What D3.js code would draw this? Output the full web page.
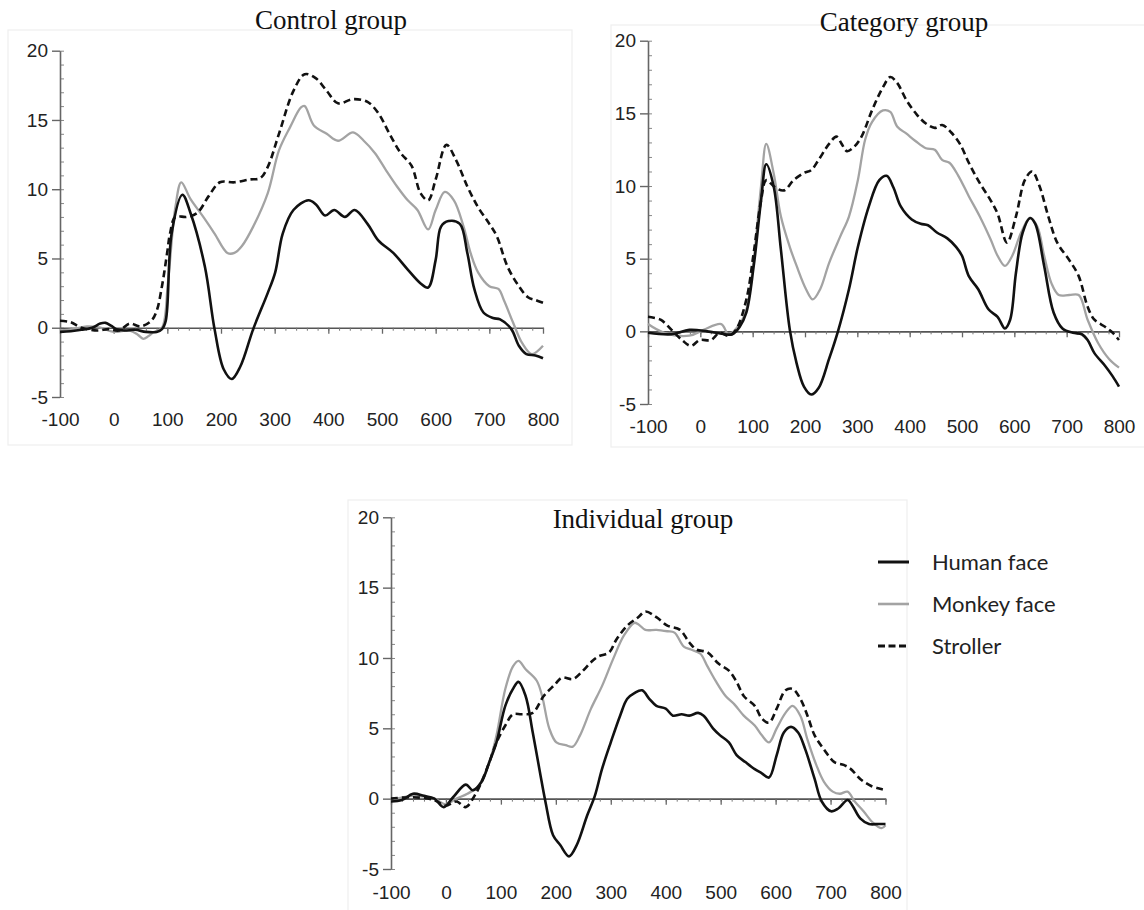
<!DOCTYPE html>
<html><head><meta charset="utf-8">
<script src="https://cdn.jsdelivr.net/npm/d3@7"></script>
<style>
html,body{margin:0;padding:0;background:#fff;}
svg{display:block;}
</style></head>
<body>
<svg id="c" width="1144" height="910"></svg>
<script>
// ---------- data ----------
const xTicks = [-100, 0, 100, 200, 300, 400, 500, 600, 700, 800];
const yTicks = [-5, 0, 5, 10, 15, 20];
const seriesNames = ["Human face", "Monkey face", "Stroller"];
const panelTitles = ["Control group", "Category group", "Individual group"];

const controlHuman = [[-100,-0.3],[-80,-0.25],[-60,-0.15],[-40,0.0],[-25,0.3],[-15,0.35],[-5,0.15],[5,-0.1],[20,-0.2],[40,-0.15],[60,-0.3],[80,-0.3],[90,-0.1],[97,0.5],[108,6.8],[128,9.6],[143,8.3],[170,4.4],[188,-0.1],[205,-3.0],[220,-3.7],[236,-2.8],[260,-0.1],[287,2.5],[301,4.0],[315,6.8],[335,8.5],[363,9.2],[377,8.9],[394,8.1],[411,8.5],[431,8.0],[449,8.5],[473,7.5],[493,6.3],[521,5.4],[548,4.2],[572,3.2],[586,2.9],[600,4.9],[610,7.3],[624,7.7],[645,7.5],[659,5.4],[672,2.8],[689,1.1],[707,0.7],[720,0.6],[741,-0.1],[755,-1.3],[769,-1.9],[786,-2.0],[800,-2.2]];
const controlMonkey = [[-100,-0.2],[-75,-0.1],[-50,0.1],[-25,0.0],[0,-0.3],[30,-0.2],[45,-0.5],[55,-0.8],[65,-0.6],[75,-0.3],[90,0.0],[101,3.2],[115,8.7],[126,10.5],[143,9.3],[167,8.0],[188,6.8],[212,5.4],[225,5.4],[239,5.9],[260,7.3],[287,9.7],[308,12.8],[329,14.5],[349,15.9],[356,16.0],[373,14.6],[397,14.0],[418,13.5],[446,14.1],[466,13.5],[487,12.6],[507,11.4],[528,10.2],[548,9.2],[566,8.5],[586,7.1],[600,8.5],[617,9.8],[634,9.2],[652,7.3],[665,5.4],[679,4.0],[700,3.0],[717,2.8],[727,2.0],[744,0.4],[761,-1.1],[779,-1.9],[800,-1.3]];
const controlStroller = [[-100,0.5],[-80,0.4],[-60,0.0],[-30,-0.2],[-10,-0.1],[10,-0.2],[30,0.3],[50,0.1],[70,0.5],[80,1.2],[90,3.0],[100,5.5],[105,6.8],[115,8.0],[136,8.0],[156,8.3],[177,9.5],[198,10.5],[225,10.5],[253,10.7],[273,10.8],[287,11.6],[308,14.0],[335,17.1],[356,18.3],[377,18.0],[397,17.1],[418,16.2],[446,16.5],[473,16.3],[493,15.5],[514,14.0],[535,12.6],[555,11.7],[572,9.7],[586,9.2],[600,10.7],[620,13.2],[638,12.1],[659,10.2],[679,8.7],[700,7.5],[714,6.6],[734,4.4],[755,3.0],[772,2.2],[786,2.0],[800,1.8]];

const categoryHuman = [[-100,-0.1],[-55,-0.2],[-21,0.1],[13,0.0],[47,-0.2],[61,-0.2],[75,0.3],[88,1.3],[102,4.5],[116,9.0],[126,11.5],[140,10.0],[154,5.6],[171,0.1],[184,-2.2],[198,-3.8],[212,-4.35],[226,-3.9],[246,-1.9],[263,0.0],[284,2.9],[301,5.8],[322,8.6],[342,10.4],[356,10.7],[369,9.9],[383,8.6],[404,7.7],[421,7.4],[435,7.3],[452,6.8],[472,6.4],[489,5.8],[500,5.2],[513,3.8],[531,2.9],[551,1.5],[568,1.0],[582,0.2],[592,0.8],[603,4.0],[616,6.8],[630,7.8],[640,7.4],[657,4.5],[675,1.3],[692,0.2],[712,-0.1],[729,-0.2],[740,-0.6],[753,-1.5],[774,-2.4],[788,-3.1],[800,-3.8]];
const categoryMonkey = [[-100,0.5],[-69,-0.1],[-21,-0.3],[6,0.1],[40,0.5],[54,-0.2],[75,0.5],[88,1.5],[102,4.9],[116,10.0],[126,12.9],[140,10.9],[154,7.9],[171,5.8],[184,4.5],[202,2.9],[215,2.2],[229,2.9],[246,4.7],[267,6.5],[284,7.9],[301,10.4],[315,13.2],[328,14.4],[349,15.2],[363,15.1],[376,14.1],[394,13.6],[411,13.1],[431,12.6],[448,12.5],[462,11.8],[476,11.6],[493,10.7],[513,9.3],[534,7.9],[555,6.3],[568,5.2],[582,4.5],[596,5.2],[613,6.8],[630,7.8],[644,7.2],[657,5.2],[671,3.3],[685,2.5],[705,2.5],[723,2.5],[740,0.8],[760,-0.8],[781,-1.9],[800,-2.5]];
const categoryStroller = [[-100,1.0],[-76,0.8],[-55,0.1],[-35,-0.6],[-18,-1.0],[-1,-0.6],[20,-0.6],[37,-0.1],[54,-0.3],[68,0.1],[88,2.2],[102,5.4],[116,9.0],[126,10.4],[143,9.9],[160,9.7],[178,10.4],[198,10.9],[212,11.1],[226,11.8],[246,12.9],[260,13.4],[270,12.9],[280,12.4],[294,12.7],[308,13.4],[328,15.2],[349,16.8],[363,17.5],[376,17.1],[394,15.9],[414,14.9],[431,14.3],[448,14.0],[462,14.2],[479,13.7],[496,12.9],[513,11.6],[534,10.2],[555,9.0],[568,8.1],[586,6.1],[603,7.9],[620,10.4],[634,11.0],[648,10.0],[665,7.9],[682,6.1],[705,4.9],[723,3.8],[740,1.7],[753,0.8],[774,0.3],[788,-0.1],[800,-0.6]];

const individualHuman = [[-100,-0.2],[-80,-0.1],[-60,0.35],[-40,0.2],[-21,0.0],[-4,-0.6],[13,0.1],[36,1.0],[49,0.6],[65,1.2],[79,2.6],[92,4.0],[108,6.6],[122,7.8],[132,8.3],[145,7.3],[158,4.7],[171,1.9],[181,-0.2],[195,-2.6],[208,-3.3],[224,-4.1],[238,-3.3],[257,-1.2],[271,0.2],[284,2.1],[300,4.0],[317,5.9],[330,7.1],[343,7.5],[357,7.7],[370,7.1],[383,6.6],[400,6.4],[413,5.9],[429,6.0],[443,5.9],[459,6.1],[469,5.9],[486,5.0],[499,4.5],[515,4.0],[529,3.1],[545,2.6],[562,2.1],[575,1.8],[588,1.5],[602,3.1],[615,4.7],[628,5.1],[641,4.7],[654,3.5],[671,1.4],[684,-0.2],[701,-0.9],[714,-0.7],[731,-0.1],[740,-0.5],[754,-1.4],[770,-1.8],[787,-1.8],[800,-1.8]];
const individualMonkey = [[-100,-0.1],[-60,0.2],[-21,0.0],[-1,-0.4],[19,0.0],[39,0.35],[59,0.9],[79,2.6],[92,4.5],[108,7.8],[122,9.4],[132,9.8],[145,9.2],[165,8.4],[175,7.3],[188,5.0],[201,4.0],[218,3.8],[231,3.7],[244,4.5],[264,6.4],[284,8.0],[304,9.9],[324,11.6],[343,12.5],[350,12.4],[363,12.0],[383,12.0],[403,11.9],[416,11.8],[433,10.8],[446,10.6],[463,10.3],[476,9.4],[492,8.3],[509,7.3],[525,6.7],[542,5.9],[562,5.2],[575,4.5],[588,4.0],[602,5.0],[618,6.1],[631,6.6],[645,5.9],[658,4.2],[674,2.4],[688,1.2],[704,0.5],[717,0.35],[731,0.5],[744,-0.2],[760,-0.9],[777,-1.7],[793,-2.1],[800,-1.9]];
const individualStroller = [[-100,0.0],[-60,0.1],[-21,-0.1],[-1,-0.5],[19,-0.2],[36,-0.6],[52,0.2],[65,1.2],[79,2.6],[92,4.0],[108,5.2],[122,6.0],[138,6.0],[158,6.1],[178,7.3],[198,8.1],[211,8.6],[231,8.5],[247,9.0],[264,9.7],[277,10.1],[297,10.4],[310,11.3],[330,12.3],[350,12.9],[363,13.3],[383,12.9],[403,12.3],[426,12.0],[443,11.1],[456,10.6],[476,10.4],[496,9.6],[515,9.1],[529,8.3],[542,7.3],[562,6.6],[575,5.7],[588,5.4],[602,6.4],[618,7.7],[631,7.8],[645,7.1],[658,5.9],[671,4.5],[688,3.5],[707,2.6],[724,2.4],[737,2.1],[754,1.4],[774,0.9],[790,0.7],[800,0.6]];

// ---------- layout / style ----------
const styles = [
  {stroke:"#111", width:2.6, dash:null},
  {stroke:"#a3a3a3", width:2.3, dash:null},
  {stroke:"#111", width:2.6, dash:"7,4"}
];
const layouts = [
  {x0:60, x1:543, yTop:50.7, yBot:397, tx:331, ty:29, ly:426, bg:[8,30,564,415], data:[controlHuman,controlMonkey,controlStroller]},
  {x0:648, x1:1119, yTop:40.7, yBot:404, tx:904, ty:31, ly:433, bg:[611,25,540,422], data:[categoryHuman,categoryMonkey,categoryStroller]},
  {x0:391, x1:885.5, yTop:517.3, yBot:869, tx:643, ty:528, ly:899, bg:[348,500,559,420], data:[individualHuman,individualMonkey,individualStroller]}
];

const svg = d3.select("#c");
const tickFont = "'Liberation Sans', Arial, sans-serif";
const fmt = d => String(d);

layouts.forEach((L, pi) => {
  const x = d3.scaleLinear().domain([-100, 800]).range([L.x0, L.x1]);
  const y = d3.scaleLinear().domain([-5, 20]).range([L.yBot, L.yTop]);
  const g = svg.append("g");

  // faint panel border
  g.append("rect").attr("x", L.bg[0]).attr("y", L.bg[1]).attr("width", L.bg[2]).attr("height", L.bg[3])
    .attr("fill", "none").attr("stroke", "#efefef").attr("stroke-width", 1.2);

  // title
  g.append("text").attr("x", L.tx).attr("y", L.ty).attr("text-anchor", "middle")
    .style("font-family", "'Liberation Serif', 'Times New Roman', serif").style("font-size", "27px")
    .attr("fill", "#111").text(panelTitles[pi]);

  // y axis minor ticks
  const yMinor = g.append("g").attr("transform", `translate(${L.x0},0)`)
    .call(d3.axisLeft(y).tickValues(d3.range(-5, 20.01, 1)).tickSize(-4).tickFormat(""));
  yMinor.select(".domain").remove();
  yMinor.selectAll("line").attr("stroke", "#888").attr("stroke-width", 1);

  // y axis major
  const yAx = g.append("g").attr("transform", `translate(${L.x0},0)`)
    .call(d3.axisLeft(y).tickValues(yTicks).tickSize(8).tickSizeOuter(0).tickPadding(4).tickFormat(fmt));
  yAx.select(".domain").attr("stroke", "#666").attr("stroke-width", 1.6);
  yAx.selectAll("line").attr("stroke", "#666").attr("stroke-width", 1.4);
  yAx.selectAll("text").style("font-family", tickFont).style("font-size", "19px").attr("fill", "#222");

  // zero line with ticks
  const zMinor = g.append("g").attr("transform", `translate(0,${y(0)})`)
    .call(d3.axisBottom(x).tickValues(d3.range(-100, 800.01, 20)).tickSize(3).tickSizeOuter(0).tickFormat(""));
  zMinor.select(".domain").attr("stroke", "#555").attr("stroke-width", 1.6);
  zMinor.selectAll("line").attr("stroke", "#777").attr("stroke-width", 1);
  const zMajor = g.append("g").attr("transform", `translate(0,${y(0)})`)
    .call(d3.axisBottom(x).tickValues(xTicks).tickSize(6).tickSizeOuter(0).tickFormat(""));
  zMajor.select(".domain").remove();
  zMajor.selectAll("line").attr("stroke", "#666").attr("stroke-width", 1.3);

  // x tick labels at bottom
  const xLab = g.append("g").attr("transform", `translate(0,${L.ly})`)
    .call(d3.axisBottom(x).tickValues(xTicks).tickSize(0).tickPadding(0).tickFormat(fmt));
  xLab.select(".domain").remove();
  xLab.selectAll("text").attr("dy", 0).attr("y", 0)
    .style("font-family", tickFont).style("font-size", "19px").attr("fill", "#222");

  // lines
  const line = d3.line().x(d => x(d[0])).y(d => y(d[1])).curve(d3.curveCatmullRom.alpha(0.5));
  [1, 2, 0].forEach(si => {
    const s = styles[si];
    g.append("path").datum(L.data[si]).attr("d", line).attr("fill", "none")
      .attr("stroke", s.stroke).attr("stroke-width", s.width)
      .attr("stroke-dasharray", s.dash).attr("stroke-linejoin", "round");
  });
});

// legend
const legY = [562, 604, 646];
const leg = svg.append("g");
seriesNames.forEach((name, i) => {
  const s = styles[i];
  leg.append("line").attr("x1", 878).attr("x2", 909).attr("y1", legY[i]).attr("y2", legY[i])
    .attr("stroke", s.stroke).attr("stroke-width", i === 1 ? 2.6 : 3)
    .attr("stroke-dasharray", s.dash ? "7,3.5" : null);
  leg.append("text").attr("x", 932).attr("y", legY[i] + 8)
    .style("font-family", "Lato, 'Open Sans', sans-serif").style("font-size", "22px")
    .attr("fill", "#222").text(name);
});
</script>
</body></html>
